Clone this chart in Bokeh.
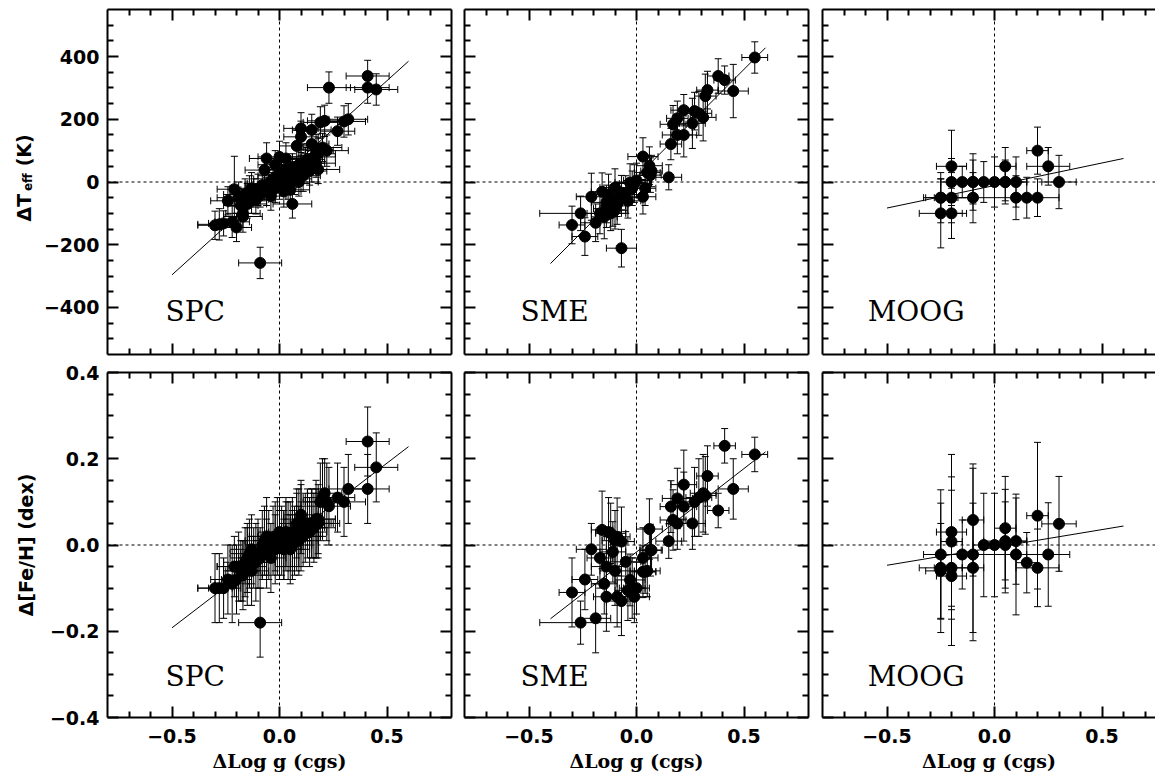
import numpy as np
from bokeh.plotting import figure
from bokeh.layouts import column, row
from bokeh.models import (ColumnDataSource, Whisker, TeeHead, Span, Label,
                          LinearAxis, FixedTicker, Range1d)
from bokeh.core.properties import value
from bokeh.embed import file_html
from bokeh.resources import INLINE

# ---------------- data ----------------
spc_dlogg = [-0.30, -0.28, -0.26, -0.24, -0.22, -0.21, -0.20, -0.19, -0.18, -0.17,
             -0.17, -0.16, -0.15, -0.15, -0.14, -0.13, -0.13, -0.12, -0.11, -0.10,
             -0.09, -0.09, -0.08, -0.07, -0.06, -0.06, -0.05, -0.04, -0.03, -0.02,
             -0.02, -0.01, 0.00, 0.00, 0.01, 0.02, 0.02, 0.03, 0.03, 0.04,
             0.05, 0.05, 0.06, 0.06, 0.07, 0.08, 0.08, 0.09, 0.09, 0.10,
             0.10, 0.10, 0.11, 0.12, 0.13, 0.14, 0.15, 0.15, 0.16, 0.17,
             0.17, 0.18, 0.18, 0.19, 0.20, 0.21, 0.22, 0.23, 0.27, 0.30,
             0.32, 0.41, 0.41, 0.45]
spc_dlogg_err = [0.08, 0.10, 0.07, 0.08, 0.08, 0.08, 0.07, 0.10, 0.08, 0.09,
                 0.08, 0.10, 0.08, 0.09, 0.09, 0.08, 0.10, 0.07, 0.09, 0.08,
                 0.10, 0.07, 0.08, 0.09, 0.08, 0.08, 0.10, 0.07, 0.09, 0.08,
                 0.08, 0.09, 0.08, 0.10, 0.07, 0.08, 0.09, 0.08, 0.08, 0.10,
                 0.08, 0.09, 0.08, 0.09, 0.08, 0.08, 0.10, 0.08, 0.09, 0.08,
                 0.08, 0.10, 0.08, 0.09, 0.08, 0.08, 0.09, 0.08, 0.10, 0.08,
                 0.09, 0.08, 0.10, 0.08, 0.09, 0.08, 0.10, 0.10, 0.08, 0.10,
                 0.09, 0.10, 0.10, 0.10]
spc_dteff = [-138, -135, -132, -60, -127, -23, -145, -50, -75, -110,
             -100, -40, -45, -70, -30, -55, -20, -35, -57, -25,
             -258, -40, -10, 38, 75, -30, -5, -45, 10, 55,
             -20, 20, -10, 80, 30, -30, 5, 75, 40, -5,
             20, -25, 45, -70, 10, 115, 30, 55, 0, 171,
             144, 40, 20, 60, 72, 35, 166, 121, 80, 102,
             60, 90, 40, 190, 110, 195, 100, 301, 162, 193,
             200, 338, 301, 295]
spc_dteff_err = [45, 50, 40, 45, 50, 105, 45, 50, 45, 50,
                 45, 50, 40, 45, 50, 45, 50, 45, 45, 50,
                 50, 40, 50, 45, 50, 45, 50, 45, 50, 45,
                 45, 50, 45, 50, 45, 50, 45, 50, 45, 50,
                 45, 50, 45, 45, 50, 50, 45, 50, 45, 50,
                 50, 45, 50, 45, 50, 45, 50, 50, 45, 50,
                 45, 50, 45, 50, 45, 50, 50, 50, 45, 50,
                 50, 50, 50, 50]
spc_dfeh = [-0.10, -0.10, -0.10, -0.08, -0.09, -0.05, -0.08, -0.05, -0.06, -0.07,
            -0.06, -0.04, -0.03, -0.05, -0.02, -0.06, -0.01, -0.03, -0.04, -0.02,
            -0.18, -0.03, 0.00, 0.01, 0.02, -0.02, 0.00, -0.03, 0.01, 0.02,
            -0.01, 0.02, 0.00, 0.03, 0.01, -0.01, 0.00, 0.02, 0.03, 0.01,
            0.02, -0.01, 0.03, 0.00, 0.01, 0.05, 0.03, 0.04, 0.01, 0.07,
            0.06, 0.02, 0.02, 0.04, 0.05, 0.03, 0.05, 0.05, 0.04, 0.05,
            0.06, 0.06, 0.05, 0.10, 0.11, 0.12, 0.10, 0.09, 0.11, 0.10,
            0.13, 0.24, 0.13, 0.18]
spc_dfeh_err = [0.08, 0.08, 0.07, 0.08, 0.09, 0.07, 0.08, 0.08, 0.07, 0.08,
                0.07, 0.08, 0.08, 0.09, 0.08, 0.08, 0.08, 0.07, 0.09, 0.08,
                0.08, 0.07, 0.08, 0.08, 0.09, 0.08, 0.08, 0.08, 0.08, 0.08,
                0.08, 0.09, 0.08, 0.08, 0.08, 0.07, 0.08, 0.08, 0.08, 0.09,
                0.08, 0.08, 0.08, 0.08, 0.08, 0.08, 0.09, 0.09, 0.08, 0.08,
                0.08, 0.08, 0.07, 0.08, 0.08, 0.08, 0.08, 0.08, 0.08, 0.08,
                0.09, 0.08, 0.08, 0.09, 0.09, 0.08, 0.09, 0.09, 0.08, 0.08,
                0.08, 0.08, 0.08, 0.08]

sme_dlogg = [-0.30, -0.26, -0.24, -0.21, -0.19, -0.17, -0.16, -0.15, -0.14, -0.14,
             -0.13, -0.12, -0.11, -0.10, -0.10, -0.09, -0.09, -0.07, -0.07, -0.05,
             -0.04, -0.03, -0.02, -0.01, 0.00, 0.03, 0.03, 0.04, 0.05, 0.06,
             0.065, 0.07, 0.15, 0.16, 0.17, 0.19, 0.19, 0.22, 0.22, 0.26,
             0.27, 0.29, 0.31, 0.32, 0.33, 0.38, 0.41, 0.45, 0.55]
sme_dlogg_err = [0.06, 0.19, 0.06, 0.07, 0.07, 0.06, 0.05, 0.06, 0.07, 0.06,
                 0.06, 0.07, 0.06, 0.07, 0.06, 0.06, 0.05, 0.07, 0.06, 0.07,
                 0.06, 0.07, 0.06, 0.07, 0.06, 0.07, 0.06, 0.05, 0.06, 0.06,
                 0.05, 0.05, 0.06, 0.05, 0.06, 0.07, 0.05, 0.06, 0.06, 0.06,
                 0.06, 0.06, 0.06, 0.05, 0.05, 0.05, 0.05, 0.07, 0.06]
sme_dteff = [-137, -100, -174, -47, -130, -100, -31, -111, -65, -85,
             -40, -100, -76, -18, -90, -55, -70, -211, -34, -40,
             -60, -2, -20, -5, 5, 81, -47, -20, 30, 52,
             22, 35, 15, 121, 184, 150, 203, 150, 229, 187,
             226, 219, 206, 274, 293, 338, 325, 290, 397]
sme_dteff_err = [60, 55, 60, 75, 60, 65, 60, 70, 55, 60,
                 65, 55, 65, 60, 60, 55, 65, 60, 55, 60,
                 55, 60, 55, 60, 55, 60, 55, 55, 55, 60,
                 55, 50, 40, 50, 60, 60, 55, 70, 50, 80,
                 60, 70, 75, 70, 60, 55, 45, 85, 50]
sme_dfeh = [-0.11, -0.18, -0.08, -0.01, -0.17, -0.03, 0.035, -0.09, -0.05, -0.12,
            0.03, 0.027, -0.016, -0.06, 0.01, 0.019, -0.12, -0.13, 0.008, -0.039,
            -0.105, -0.081, -0.10, -0.12, -0.10, -0.03, -0.062, -0.062, -0.06, 0.037,
            -0.012, -0.012, 0.009, 0.089, 0.058, 0.108, 0.05, 0.089, 0.14, 0.05,
            0.10, 0.11, 0.12, 0.115, 0.16, 0.08, 0.23, 0.13, 0.21]
sme_dfeh_err = [0.08, 0.05, 0.07, 0.06, 0.08, 0.07, 0.09, 0.07, 0.07, 0.08,
                0.08, 0.07, 0.07, 0.08, 0.07, 0.09, 0.07, 0.08, 0.08, 0.07,
                0.07, 0.06, 0.07, 0.06, 0.06, 0.07, 0.06, 0.05, 0.06, 0.07,
                0.06, 0.05, 0.04, 0.06, 0.07, 0.07, 0.06, 0.08, 0.08, 0.06,
                0.08, 0.09, 0.09, 0.09, 0.07, 0.04, 0.04, 0.07, 0.04]

moog_dlogg = [-0.25, -0.25, -0.25, -0.20, -0.20, -0.20, -0.20, -0.15, -0.10, -0.10,
              -0.10, -0.05, 0.00, 0.05, 0.05, 0.05, 0.10, 0.10, 0.15, 0.20,
              0.20, 0.25, 0.30]
moog_dlogg_err = [0.08, 0.10, 0.07, 0.07, 0.05, 0.08, 0.07, 0.05, 0.05, 0.10,
                  0.05, 0.05, 0.05, 0.05, 0.10, 0.05, 0.05, 0.10, 0.05, 0.05,
                  0.10, 0.10, 0.08]
moog_dteff = [-50, -100, -50, 50, 0, -50, -100, 0, 0, -50,
              0, 0, 0, 50, 0, 0, 0, -50, -50, 100,
              -50, 50, 0]
moog_dteff_err = [80, 110, 60, 115, 75, 80, 80, 50, 70, 80,
                  90, 65, 80, 60, 70, 60, 80, 70, 65, 75,
                  60, 60, 85]
moog_dfeh = [-0.022, -0.053, -0.06, 0.03, 0.008, -0.053, -0.072, -0.022, 0.058, -0.022,
             -0.053, 0.0, 0.0, 0.039, 0.009, 0.0, 0.009, -0.022, -0.041, 0.068,
             -0.053, -0.022, 0.049]
moog_dfeh_err = [0.15, 0.15, 0.11, 0.18, 0.15, 0.18, 0.10, 0.08, 0.13, 0.20,
                 0.15, 0.12, 0.12, 0.12, 0.12, 0.10, 0.10, 0.14, 0.07, 0.17,
                 0.09, 0.12, 0.11]

# fitted relations (end points)
spc_fit_x = [-0.5, 0.6]
spc_fit_teff = [-296, 385]
spc_fit_feh = [-0.192, 0.228]
sme_fit_x = [-0.4, 0.6]
sme_fit_teff = [-260, 428]
sme_fit_feh = [-0.171, 0.216]
moog_fit_x = [-0.5, 0.6]
moog_fit_teff = [-83, 75]
moog_fit_feh = [-0.047, 0.044]

method_names = ["SPC", "SME", "MOOG"]
x_title = "\u0394Log g (cgs)"
feh_title = "\u0394[Fe/H] (dex)"
teff_title_parts = ["\u0394T", "eff", "(K)"]

# ticks
x_ticks = [-0.5, 0.0, 0.5]
x_tick_labels = ["\u22120.5", "0.0", "0.5"]
x_minor = [-0.7, -0.6, -0.4, -0.3, -0.2, -0.1, 0.1, 0.2, 0.3, 0.4, 0.6, 0.7]
teff_ticks = [-400, -200, 0, 200, 400]
teff_tick_labels = ["\u2212400", "\u2212200", "0", "200", "400"]
teff_minor = [-500, -450, -350, -300, -250, -150, -100, -50, 50, 100, 150,
              250, 300, 350, 450, 500]
feh_ticks = [-0.4, -0.2, 0.0, 0.2, 0.4]
feh_tick_labels = ["\u22120.4", "\u22120.2", "0.0", "0.2", "0.4"]
feh_minor = [-0.35, -0.3, -0.25, -0.15, -0.1, -0.05, 0.05, 0.1, 0.15,
             0.25, 0.3, 0.35]

# ---------------- styling ----------------
FRAME_H = 345
PX_PER_X = 215.0
LABEL_W = 34          # width of the strip holding the top-row y title
TICK_FONT = "DejaVu Sans"
ROW_BORDERS = {0: (9, 8), 1: (10, 58)}


def style_axis(ax, ticks, minor, labels=None, standoff=8):
    ax.ticker = FixedTicker(ticks=ticks, minor_ticks=minor)
    ax.major_tick_in = 11
    ax.major_tick_out = 0
    ax.minor_tick_in = 6
    ax.minor_tick_out = 0
    ax.major_tick_line_width = 2
    ax.minor_tick_line_width = 2
    ax.major_tick_line_color = "black"
    ax.minor_tick_line_color = "black"
    ax.axis_line_width = 2
    ax.axis_line_color = "black"
    if labels is not None:
        ax.major_label_overrides = dict(zip(ticks, labels))
        ax.major_label_text_font = TICK_FONT
        ax.major_label_text_font_style = "bold"
        ax.major_label_text_font_size = "19px"
        ax.major_label_text_color = "black"
        ax.major_label_standoff = standoff
    else:
        ax.major_label_text_font_size = "0px"
        ax.major_label_standoff = 0


def make_panel(col, rowi, xs, xe, ys, ye, fx, fy):
    bottom = rowi == 1
    if col == 0:
        fw, bl, br = 344, (107 - LABEL_W if rowi == 0 else 107), 6
    elif col == 1:
        fw, bl, br = 344, 7, 7
    else:
        fw, bl, br = 333, 7, 0
    xmax = -0.8 + fw / PX_PER_X
    if rowi == 0:
        yr = Range1d(-550, 550)
        yt, ym, ylab = teff_ticks, teff_minor, teff_tick_labels
    else:
        yr = Range1d(-0.4, 0.4)
        yt, ym, ylab = feh_ticks, feh_minor, feh_tick_labels
    bt, bb = ROW_BORDERS[rowi]

    p = figure(frame_width=fw, frame_height=FRAME_H,
               x_range=Range1d(-0.8, xmax), y_range=yr,
               output_backend="svg", toolbar_location=None,
               min_border_left=bl, min_border_right=br,
               min_border_top=bt, min_border_bottom=bb)
    p.xgrid.visible = False
    p.ygrid.visible = False
    p.outline_line_color = None
    p.background_fill_color = "white"
    p.border_fill_color = "white"

    xb = p.xaxis[0]
    yl = p.yaxis[0]
    style_axis(xb, x_ticks, x_minor, x_tick_labels if bottom else None, standoff=11)
    style_axis(yl, yt, ym, ylab if col == 0 else None, standoff=8)

    top_ax = LinearAxis()
    style_axis(top_ax, x_ticks, x_minor, None)
    p.add_layout(top_ax, "above")
    if col < 2:
        right_ax = LinearAxis()
        style_axis(right_ax, yt, ym, None)
        p.add_layout(right_ax, "right")

    if bottom:
        xb.axis_label = x_title
        xb.axis_label_text_font = "DejaVu Serif"
        xb.axis_label_text_font_style = "bold"
        xb.axis_label_text_font_size = "19px"
        xb.axis_label_text_color = "black"
        xb.axis_label_standoff = 4
        if col == 0:
            yl.axis_label = feh_title
            yl.axis_label_text_font = TICK_FONT
            yl.axis_label_text_font_style = "bold"
            yl.axis_label_text_font_size = "19px"
            yl.axis_label_text_color = "black"
            yl.axis_label_standoff = 10

    # reference lines
    p.add_layout(Span(location=0, dimension="height", line_color="black",
                      line_width=1, line_dash="3 3"))
    p.add_layout(Span(location=0, dimension="width", line_color="black",
                      line_width=1, line_dash="3 3"))

    xs = np.asarray(xs, float)
    xe = np.asarray(xe, float)
    ys = np.asarray(ys, float)
    ye = np.asarray(ye, float)
    src = ColumnDataSource(dict(x=xs, y=ys, xl=xs - xe, xu=xs + xe,
                                yl=ys - ye, yu=ys + ye))
    head = dict(size=7, line_color="black", line_width=1)
    p.add_layout(Whisker(source=src, base="x", lower="yl", upper="yu",
                         dimension="height", line_color="black", line_width=1,
                         upper_head=TeeHead(**head), lower_head=TeeHead(**head)))
    p.add_layout(Whisker(source=src, base="y", lower="xl", upper="xu",
                         dimension="width", line_color="black", line_width=1,
                         upper_head=TeeHead(**head), lower_head=TeeHead(**head)))
    p.scatter("x", "y", source=src, size=11, fill_color="black",
              line_color="black")
    p.line(fx, fy, line_color="black", line_width=1)

    name = method_names[col]
    lab_x = {0: -0.53, 1: -0.54, 2: -0.59}[col]
    lab_y = -413 if rowi == 0 else -0.306
    p.add_layout(Label(x=lab_x, y=lab_y, text=name, text_font="DejaVu Serif",
                       text_font_size="28px", text_color="black",
                       text_baseline="middle", text_align="left"))
    return p


panels = [
    make_panel(0, 0, spc_dlogg, spc_dlogg_err, spc_dteff, spc_dteff_err, spc_fit_x, spc_fit_teff),
    make_panel(1, 0, sme_dlogg, sme_dlogg_err, sme_dteff, sme_dteff_err, sme_fit_x, sme_fit_teff),
    make_panel(2, 0, moog_dlogg, moog_dlogg_err, moog_dteff, moog_dteff_err, moog_fit_x, moog_fit_teff),
    make_panel(0, 1, spc_dlogg, spc_dlogg_err, spc_dfeh, spc_dfeh_err, spc_fit_x, spc_fit_feh),
    make_panel(1, 1, sme_dlogg, sme_dlogg_err, sme_dfeh, sme_dfeh_err, sme_fit_x, sme_fit_feh),
    make_panel(2, 1, moog_dlogg, moog_dlogg_err, moog_dfeh, moog_dfeh_err, moog_fit_x, moog_fit_feh),
]

# strip at the left of the top row holding the rotated title  "ΔT_eff (K)"
bt, bb = ROW_BORDERS[0]
strip = figure(frame_width=LABEL_W, frame_height=FRAME_H,
               x_range=Range1d(0, LABEL_W), y_range=Range1d(-550, 550),
               x_axis_location=None, y_axis_location=None,
               output_backend="svg", toolbar_location=None,
               min_border_left=0, min_border_right=0,
               min_border_top=bt, min_border_bottom=bb)
strip.xgrid.visible = False
strip.ygrid.visible = False
strip.outline_line_color = None
strip.border_fill_color = "white"
title_style = dict(angle=np.pi / 2, text_color="black", text_align="left",
                   text_baseline="middle", text_font=value("DejaVu Sans"),
                   text_font_style="bold")
# main part and unit (x in strip pixels, y in data units of the top row)
strip.text(x=[23, 23], y=[-126, 50], text=[teff_title_parts[0], teff_title_parts[2]],
           text_font_size="19px", **title_style)
# subscript
strip.text(x=[27.5], y=[-29], text=[teff_title_parts[1]],
           text_font_size="12px", **title_style)

layout = column(row(strip, *panels[:3]), row(*panels[3:]))

open("out.html", "w").write(file_html(layout, INLINE))
